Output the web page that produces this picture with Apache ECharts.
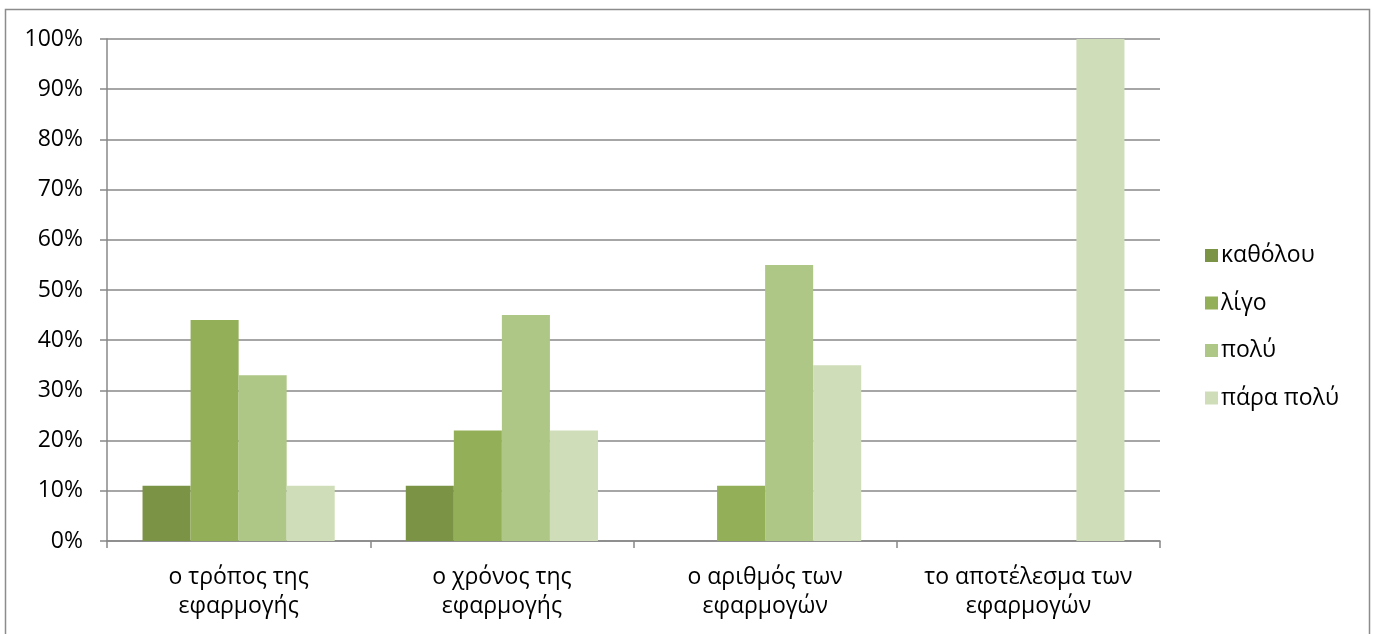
<!DOCTYPE html>
<html>
<head>
<meta charset="utf-8">
<script src="https://cdn.jsdelivr.net/npm/echarts@6/dist/echarts.min.js"></script>
<style>html,body{margin:0;padding:0;background:#fff}#c{width:1374px;height:634px}</style>
</head>
<body>
<div id="c"></div>
<script>
const categories = ["ο τρόπος της\nεφαρμογής", "ο χρόνος της\nεφαρμογής", "ο αριθμός των\nεφαρμογών", "το αποτέλεσμα των\nεφαρμογών"];
const seriesNames = ["καθόλου", "λίγο", "πολύ", "πάρα πολύ"];
const katholou = [11, 11, 0, 0];
const ligo = [44, 22, 11, 0];
const poly = [33, 45, 55, 0];
const paraPoly = [11, 22, 35, 100];
const seriesColors = ["#7A9344", "#93AF57", "#AEC686", "#CFDDB8"];

const font = "'Open Sans', 'Noto Sans', sans-serif";
const values = [katholou, ligo, poly, paraPoly];
const chart = echarts.init(document.getElementById('c'), null, {renderer: 'canvas'});
chart.setOption({
  animation: false,
  textStyle: {fontFamily: font},
  graphic: [{
    type: 'rect', shape: {x: 5.5, y: 9.5, width: 1364, height: 640},
    style: {fill: 'none', stroke: '#8c8c8c', lineWidth: 1.5}, z: -1
  }],
  legend: {
    orient: 'vertical', left: 1200, top: 239,
    itemWidth: 13, itemHeight: 13, itemGap: 24.5, icon: 'rect',
    textStyle: {fontSize: 23, color: '#000', fontFamily: font, padding: [0, 0, 0, -2]},
    data: seriesNames
  },
  grid: {left: 107, right: 214, top: 39, bottom: 93, containLabel: false},
  xAxis: {
    type: 'category', data: categories,
    axisLine: {lineStyle: {color: '#888', width: 1.5}},
    axisTick: {show: true, interval: 0, length: 7, lineStyle: {color: '#888', width: 1.5}},
    axisLabel: {interval: 0, hideOverlap: false, fontSize: 23, color: '#000', margin: 22, lineHeight: 29, fontFamily: font}
  },
  yAxis: {
    type: 'value', min: 0, max: 100, interval: 10,
    axisLine: {show: true, lineStyle: {color: '#888', width: 1.5}},
    axisTick: {show: true, length: 7, lineStyle: {color: '#888', width: 1.5}},
    splitLine: {lineStyle: {color: '#888', width: 1.5}},
    axisLabel: {fontSize: 23, color: '#000', margin: 24, formatter: '{value}%', fontFamily: font}
  },
  series: seriesNames.map((n, i) => ({
    name: n, type: 'bar', data: values[i],
    barGap: '0%', barCategoryGap: '27%',
    itemStyle: {color: seriesColors[i]}
  }))
});
</script>
</body>
</html>
